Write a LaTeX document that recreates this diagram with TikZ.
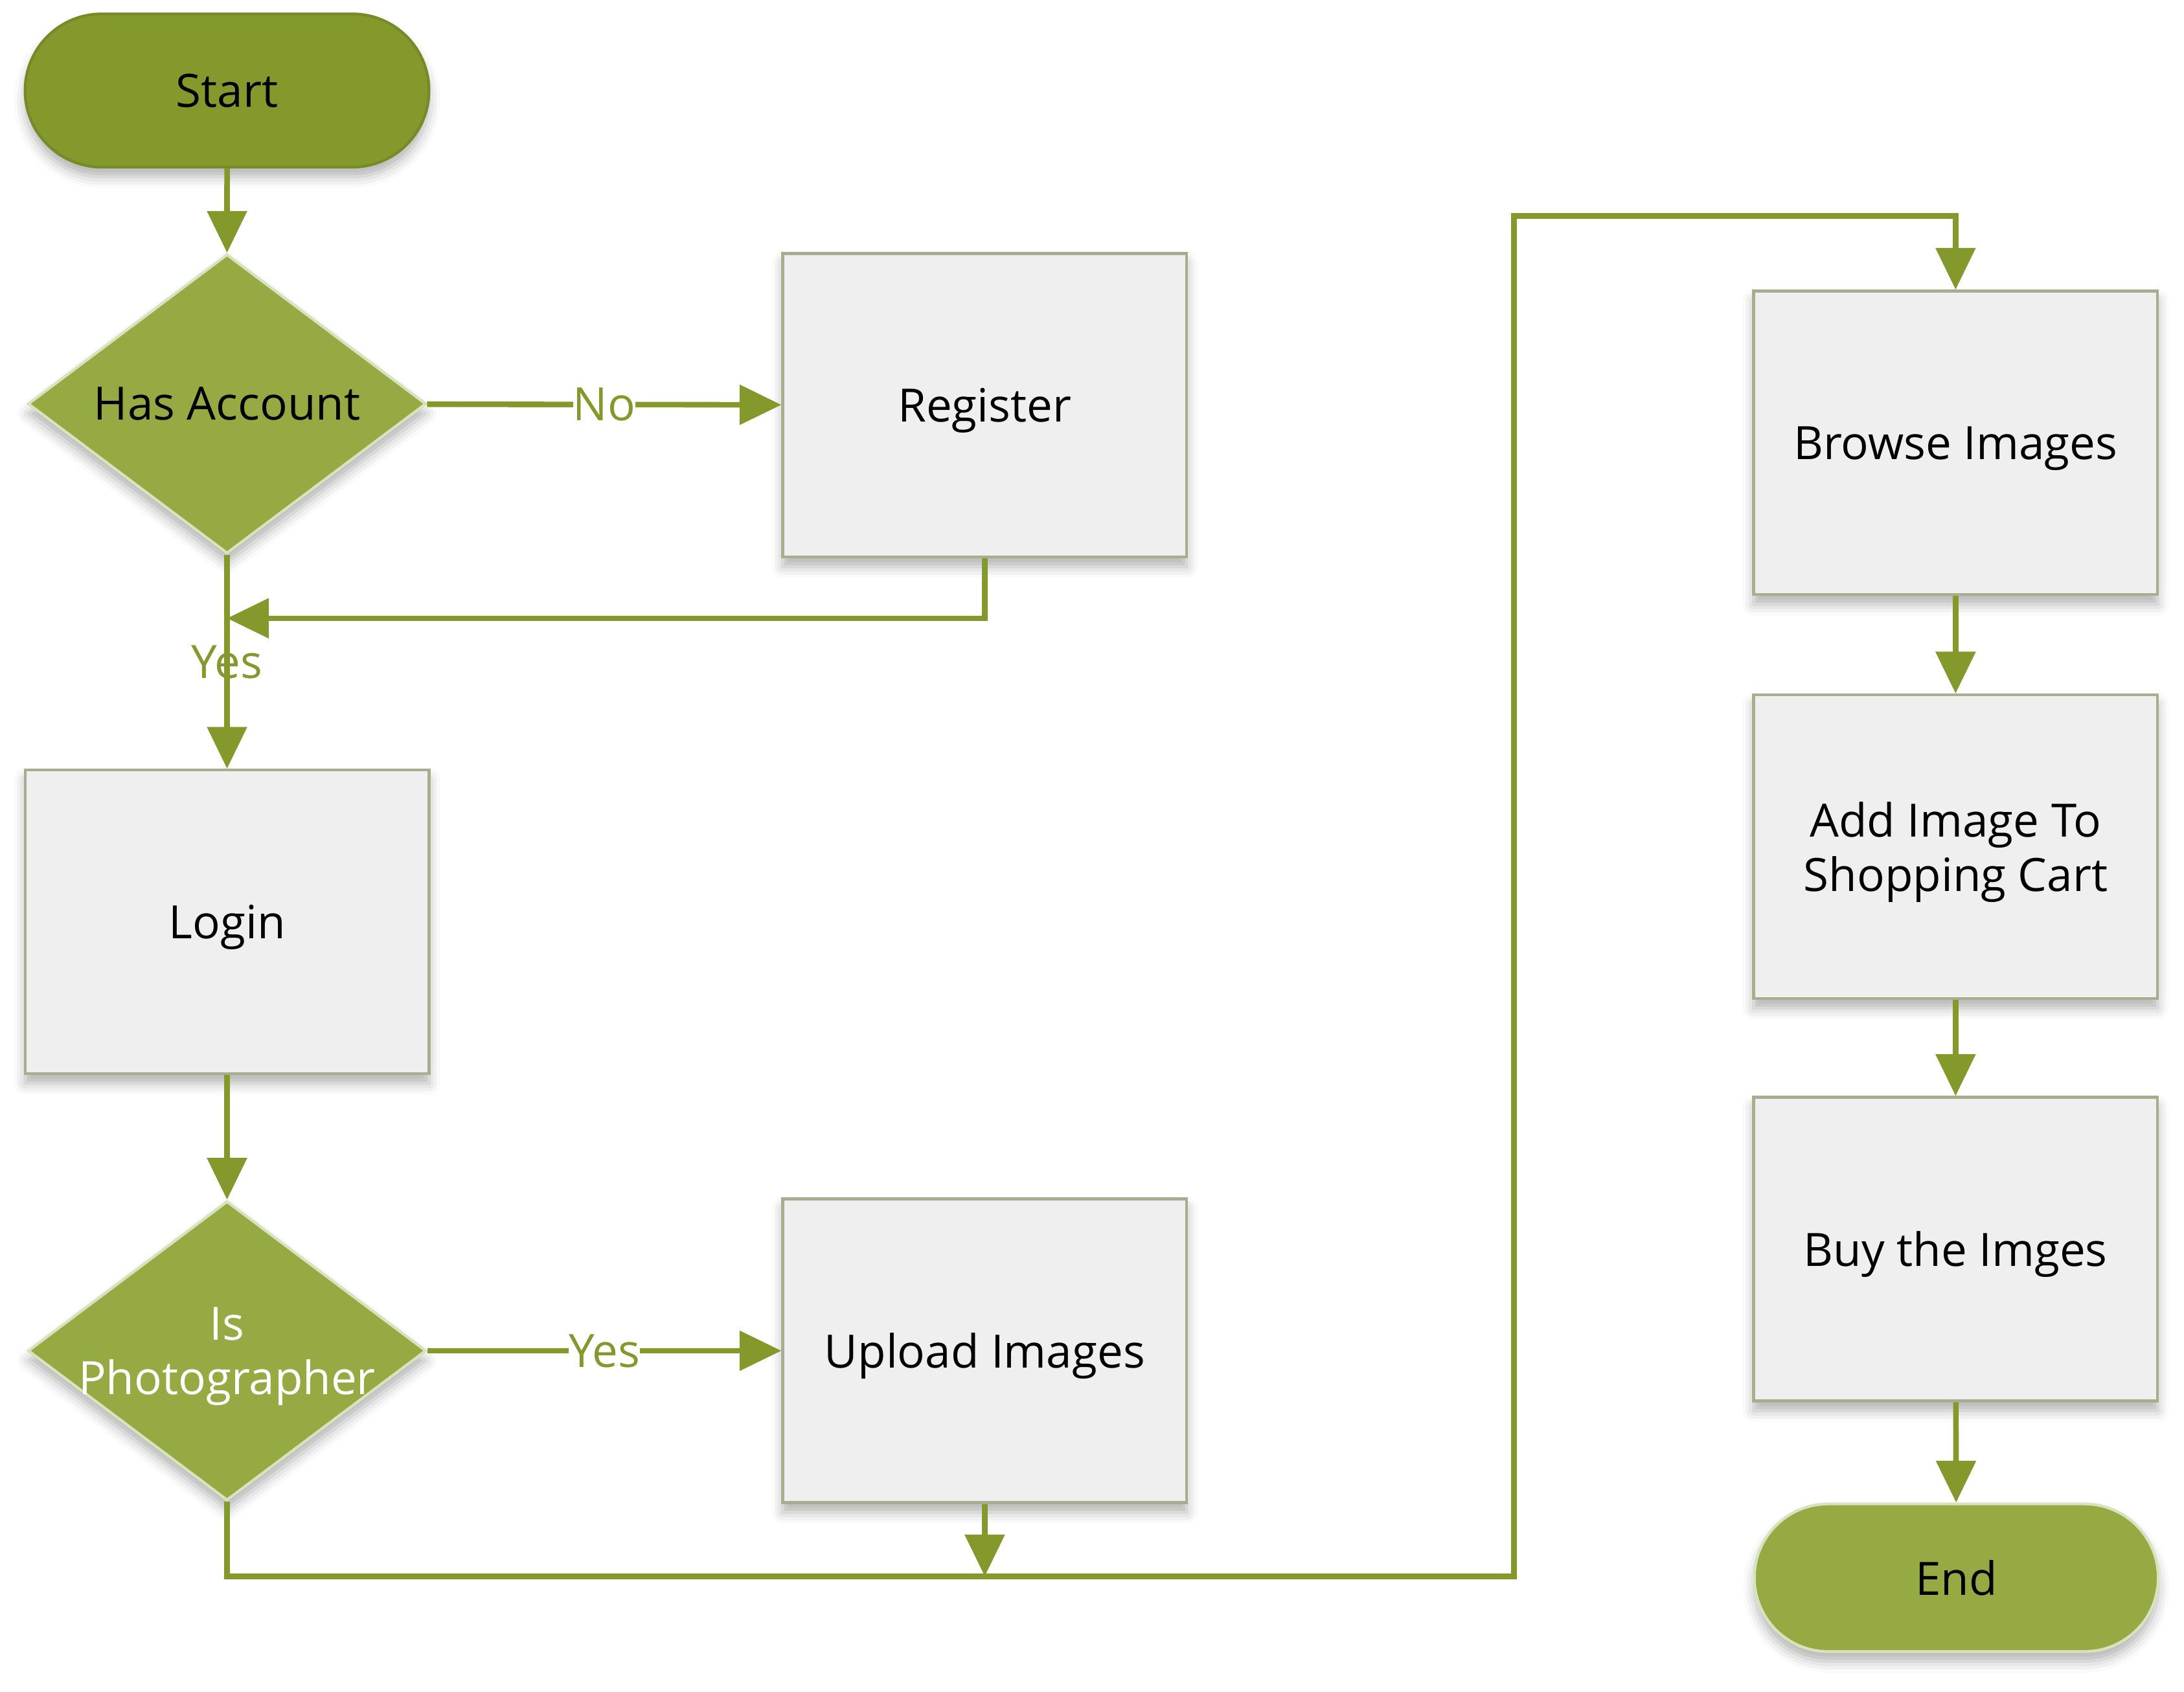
\documentclass[tikz,border=0pt]{standalone}
\usepackage{fontspec}
\setmainfont{Open Sans}
\usetikzlibrary{shapes.geometric,shapes.misc,arrows.meta,shadows.blur}
\definecolor{olive}{HTML}{84992C}
\definecolor{oliveL}{HTML}{95AA43}
\definecolor{edgeL}{HTML}{D6E3BC}
\definecolor{boxfill}{HTML}{EFEFEF}
\definecolor{boxedge}{HTML}{A7AE8E}
\tikzset{
  every node/.style={font=\fontsize{33}{39}\selectfont},
  shade/.style={blur shadow={shadow xshift=0pt, shadow yshift=-7pt, shadow blur radius=8pt, shadow opacity=30}},
  stepbox/.style={rectangle, shade, fill=boxfill, draw=boxedge, line width=2pt, minimum width=290pt, minimum height=218pt, align=center, inner sep=0pt, text depth=0pt},
  decision/.style={diamond, shade, fill=oliveL, draw=edgeL, line width=2pt, minimum width=286pt, minimum height=215pt, inner sep=0pt, align=center},
  terminal/.style={rounded rectangle, shade, line width=2pt, minimum width=290pt, inner sep=0pt},
  conn/.style={draw=olive, line width=4pt, -{Triangle[length=30pt,width=28pt]}},
  lbl/.style={text=olive, inner sep=0pt},
  lblw/.style={lbl, fill=white}
}
\begin{document}
\begin{tikzpicture}[x=1pt,y=-1pt]
\useasboundingbox (0,0) rectangle (1568,1214.6);
% nodes
\node[terminal, fill=olive, draw=olive!90!black, minimum height=110pt] (start) at (163,65) {Start};
\node[decision] (has) at (163,290) {};
\node (hasT) at (has.center) {Has Account};
\node[stepbox] (reg) at (707,291) {Register};
\node[stepbox] (login) at (163,662) {Login};
\node[decision] (photo) at (163,970) {};
\node[text=white, align=center] (photoT) at ([yshift=-4pt]photo.center) {Is\\Photographer};
\node[stepbox] (upload) at (707,970) {Upload Images};
\node[stepbox] (browse) at (1404,318) {Browse Images};
\node[stepbox] (add) at (1404,608) {Add Image To\\Shopping Cart};
\node[stepbox] (buy) at (1404,897) {Buy the Imges};
\node[terminal, fill=oliveL, draw=edgeL, minimum height=106pt] (end) at (1404.5,1133) {End};
% coordinates
\coordinate (m1) at (163,444);
\coordinate (m2) at (707,1132);
\coordinate (c1) at (163,1132);
\coordinate (c2) at (1087,1132);
\coordinate (c3) at (1087,155);
\coordinate (c4) at (1404,155);
% connectors
\draw[conn] (start) -- (has);
\draw[conn] (has) -- node[lblw]{No} (reg);
\draw[conn] (reg.south) |- (m1);
\draw[conn] (has) -- node[lbl]{Yes} (login);
\draw[conn] (login) -- (photo);
\draw[conn] (photo) -- node[lblw]{Yes} (upload);
\draw[conn] (upload) -- (m2);
\draw[conn] (photo.south) -- (c1) -- (c2) -- (c3) -- (c4) -- (browse.north);
\draw[conn] (browse) -- (add);
\draw[conn] (add) -- (buy);
\draw[conn] (buy) -- (end);
\end{tikzpicture}
\end{document}
